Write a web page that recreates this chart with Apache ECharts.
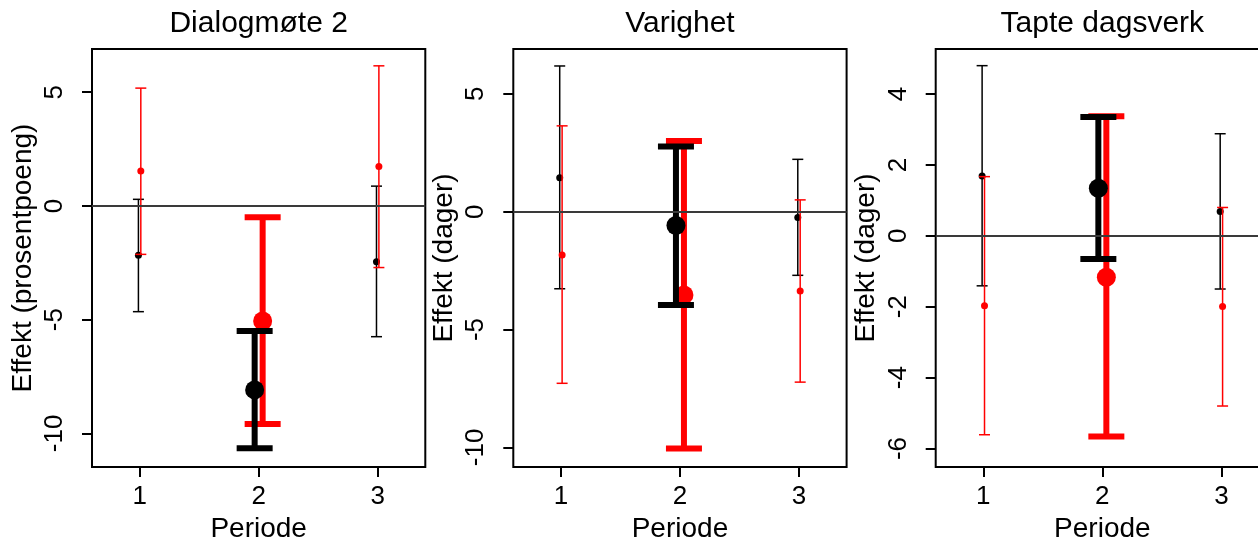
<!DOCTYPE html>
<html><head><meta charset="utf-8">
<script src="https://cdn.jsdelivr.net/npm/echarts@6/dist/echarts.min.js"></script>
<style>html,body{margin:0;padding:0;background:#fff}#c{width:1258px;height:539px}</style>
</head><body><div id="c"></div>
<script>
const periods = [1, 2, 3];
const panelTitles = ['Dialogmøte 2', 'Varighet', 'Tapte dagsverk'];
const yAxisNames = ['Effekt (prosentpoeng)', 'Effekt (dager)', 'Effekt (dager)'];
const xAxisName = 'Periode';
const xTicks = [1, 2, 3];
const yTicks1 = [-10, -5, 0, 5];
const yTicks2 = [-10, -5, 0, 5];
const yTicks3 = [-6, -4, -2, 0, 2, 4];
// Dialogmøte 2
const black1Est = [-2.17, -8.09, -2.45];
const black1Lo = [-4.65, -10.66, -5.75];
const black1Hi = [0.29, -5.50, 0.87];
const red1Est = [1.54, -5.06, 1.73];
const red1Lo = [-2.13, -9.59, -2.71];
const red1Hi = [5.18, -0.50, 6.16];
// Varighet
const black2Est = [1.44, -0.59, -0.25];
const black2Lo = [-3.27, -3.96, -2.70];
const black2Hi = [6.18, 2.76, 2.22];
const red2Est = [-1.84, -3.53, -3.36];
const red2Lo = [-7.28, -10.04, -7.23];
const red2Hi = [3.64, 3.00, 0.50];
// Tapte dagsverk
const black3Est = [1.69, 1.34, 0.69];
const black3Lo = [-1.41, -0.65, -1.50];
const black3Hi = [4.80, 3.35, 2.88];
const red3Est = [-1.97, -1.17, -1.99];
const red3Lo = [-5.61, -5.66, -4.80];
const red3Hi = [1.67, 3.37, 0.80];
const highlightPeriod = 2;

const FONT = '"Liberation Sans", Arial, Helvetica, sans-serif';
const panels = [
  {left: 92, yMin: -11.48, yMax: 6.9, ticks: yTicks1, black: [black1Est, black1Lo, black1Hi], red: [red1Est, red1Lo, red1Hi]},
  {left: 513.3, yMin: -10.83, yMax: 6.9, ticks: yTicks2, black: [black2Est, black2Lo, black2Hi], red: [red2Est, red2Lo, red2Hi]},
  {left: 935.7, yMin: -6.52, yMax: 5.27, ticks: yTicks3, black: [black3Est, black3Lo, black3Hi], red: [red3Est, red3Lo, red3Hi]}
];
const GW = 333.3, GTOP = 49, GH = 418;

function rows(arr, big) {
  const out = [];
  periods.forEach((p, i) => {
    if ((p === highlightPeriod) === big) out.push([p, arr[0][i], arr[1][i], arr[2][i]]);
  });
  return out;
}
function makeRender(side, color) {
  return function (params, api) {
    const p = api.value(0);
    const big = p === highlightPeriod;
    const c = api.coord([p, api.value(1)]);
    const lo = api.coord([p, api.value(2)]);
    const hi = api.coord([p, api.value(3)]);
    const x = c[0] + side * (big ? 4 : 1.2);
    const lw = big ? 6 : 1.5, cap = big ? 18 : 5.5, r = big ? 9.5 : 3.5;
    const st = {stroke: color, lineWidth: lw, lineCap: 'butt'};
    return {type: 'group', children: [
      {type: 'line', shape: {x1: x, y1: lo[1], x2: x, y2: hi[1]}, style: st},
      {type: 'line', shape: {x1: x - cap, y1: hi[1], x2: x + cap, y2: hi[1]}, style: st},
      {type: 'line', shape: {x1: x - cap, y1: lo[1], x2: x + cap, y2: lo[1]}, style: st},
      {type: 'circle', shape: {cx: x, cy: c[1], r: r}, style: {fill: color}}
    ]};
  };
}

const option = {
  animation: false,
  backgroundColor: '#fff',
  textStyle: {fontFamily: FONT},
  graphic: panels.map((pn, i) => ({
    type: 'text', x: pn.left + GW / 2, y: 9,
    style: {text: panelTitles[i], align: 'center', verticalAlign: 'top', font: '30px ' + FONT, fill: '#000'}
  })),
  grid: panels.map(pn => ({left: pn.left, top: GTOP, width: GW, height: GH, show: true,
    borderColor: '#000', borderWidth: 2, backgroundColor: 'transparent',
    containLabel: false, outerBoundsMode: 'none'})),
  xAxis: panels.map((pn, i) => ({
    type: 'value', gridIndex: i, min: 0.6, max: 3.4,
    axisLine: {show: false, onZero: false}, splitLine: {show: false},
    axisTick: {show: true, customValues: xTicks, length: 10, lineStyle: {color: '#000', width: 2}},
    axisLabel: {customValues: xTicks, fontSize: 26, color: '#000', margin: 17, fontFamily: FONT},
    name: xAxisName, nameLocation: 'middle', nameGap: 47,
    nameTextStyle: {fontSize: 28, color: '#000', fontFamily: FONT}
  })),
  yAxis: panels.map((pn, i) => ({
    type: 'value', gridIndex: i, min: pn.yMin, max: pn.yMax,
    axisLine: {show: false, onZero: false}, splitLine: {show: false},
    axisTick: {show: true, customValues: pn.ticks, length: 10, lineStyle: {color: '#000', width: 2}},
    axisLabel: {customValues: pn.ticks, rotate: 90, fontSize: 26, color: '#000', margin: 24, fontFamily: FONT},
    name: yAxisNames[i], nameLocation: 'middle', nameRotate: 90, nameGap: 55,
    nameTextStyle: {fontSize: 28, color: '#000', fontFamily: FONT}
  })),
  series: []
};
panels.forEach((pn, i) => {
  const base = {type: 'custom', xAxisIndex: i, yAxisIndex: i, encode: {x: 0, y: [1, 2, 3]}};
  option.series.push(Object.assign({}, base, {z: 2, renderItem: makeRender(-1, '#000000'), data: rows(pn.black, false)}));
  option.series.push(Object.assign({}, base, {z: 3, renderItem: makeRender(1, '#ff0000'), data: rows(pn.red, false)}));
  option.series.push(Object.assign({}, base, {z: 4, renderItem: makeRender(1, '#ff0000'), data: rows(pn.red, true)}));
  option.series.push(Object.assign({}, base, {z: 5, renderItem: makeRender(-1, '#000000'), data: rows(pn.black, true)}));
  option.series.push({
    type: 'line', xAxisIndex: i, yAxisIndex: i, data: [], z: 6, silent: true,
    markLine: {silent: true, z: 10, symbol: 'none', label: {show: false},
      lineStyle: {color: '#3a3a3a', width: 2.2, type: 'solid'}, data: [{yAxis: 0}]}
  });
});
const chart = echarts.init(document.getElementById('c'), null, {renderer: 'canvas'});
chart.setOption(option);
</script></body></html>
